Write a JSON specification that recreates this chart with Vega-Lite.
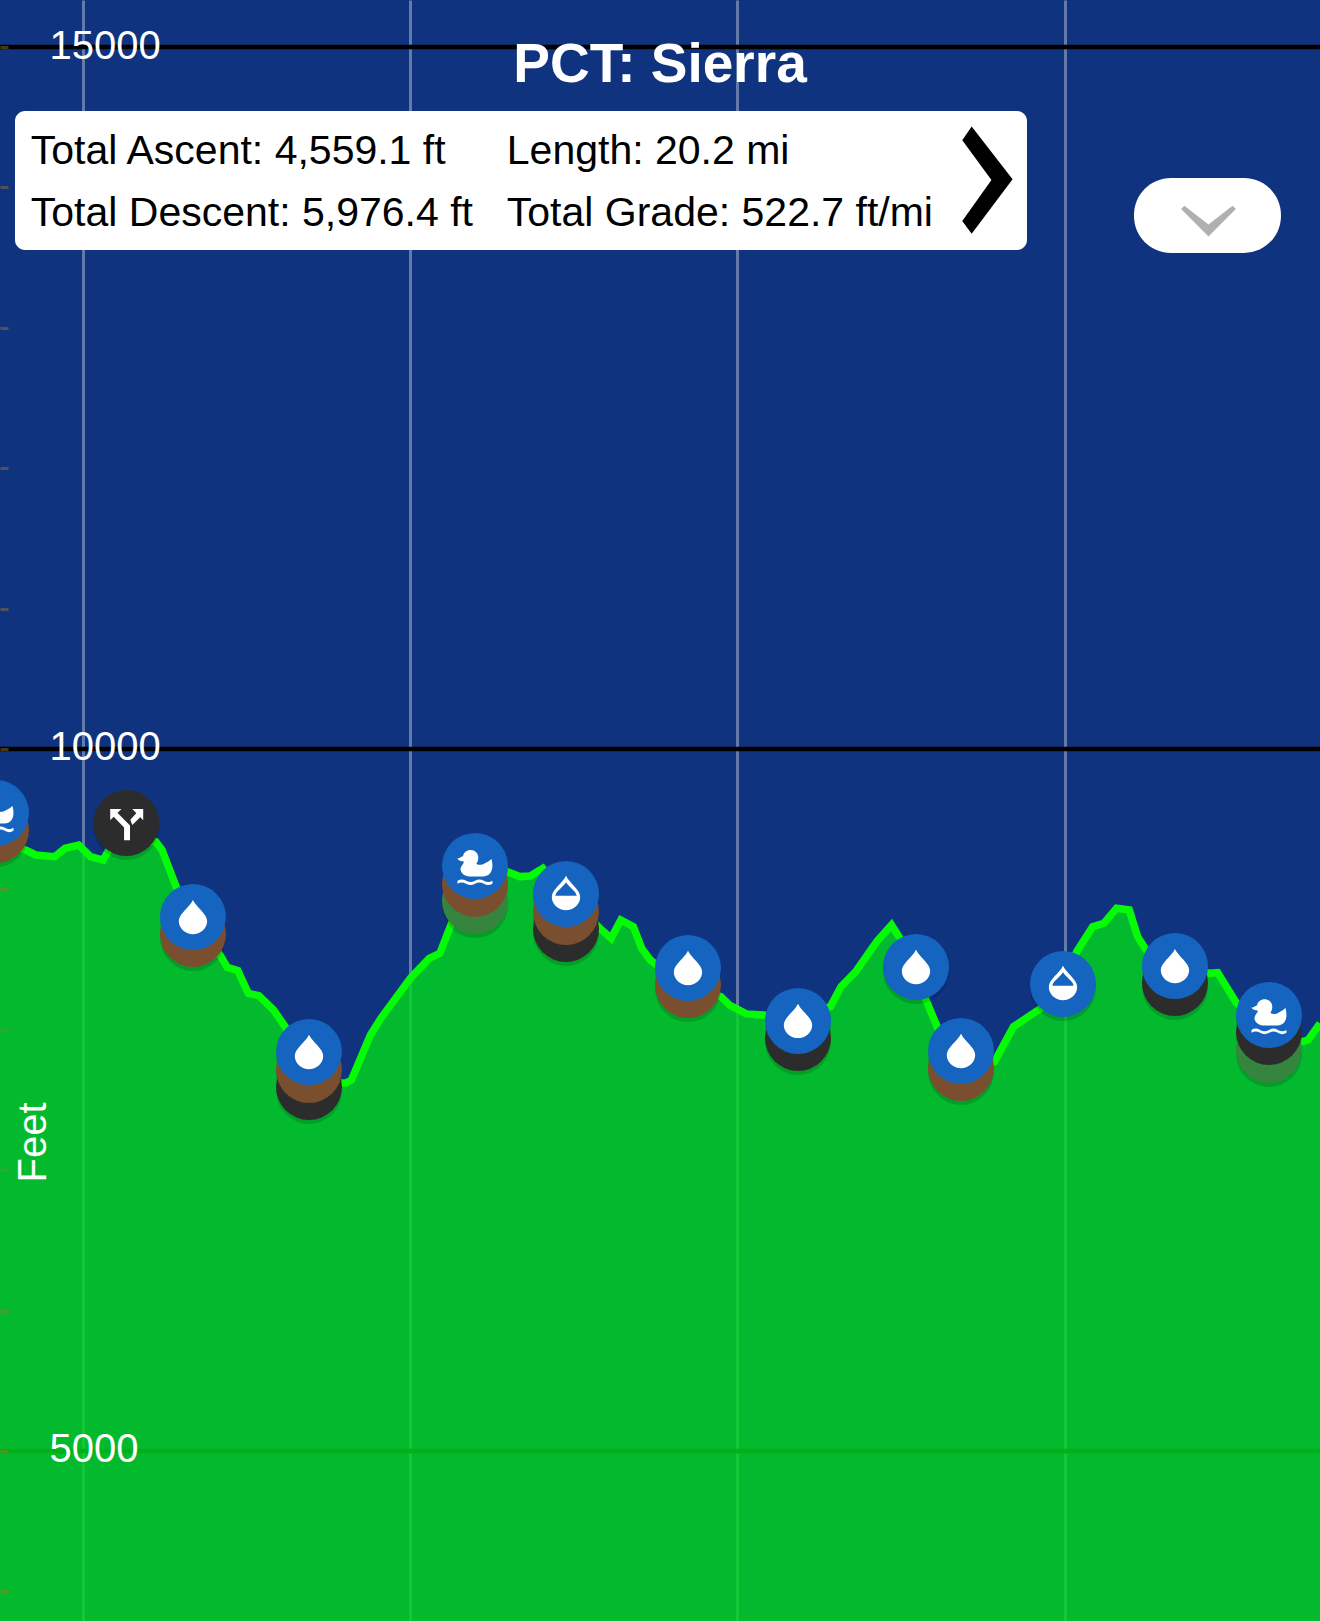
{
"$schema":"https://vega.github.io/schema/vega-lite/v6.json",
"width":1320,"height":1621,"padding":0,"autosize":{"type":"none"},
"background":"#10337f",
"view":{"stroke":null},
"title":{"text":"PCT: Sierra","font":"Liberation Sans","fontSize":55,"fontWeight":"bold","color":"#ffffff","anchor":"middle","frame":"group","baseline":"alphabetic","offset":-137},
"datasets":{
"profile":[
{"mile":3.74,"ft":9316},{"mile":4.126,"ft":9281},{"mile":4.287,"ft":9245},{"mile":4.575,"ft":9233},{"mile":4.736,"ft":9293},{"mile":4.942,"ft":9316},{"mile":5.122,"ft":9233},{"mile":5.315,"ft":9209},{"mile":5.424,"ft":9300},{"mile":5.664,"ft":9352},{"mile":6.118,"ft":9340},{"mile":6.214,"ft":9281},{"mile":6.44,"ft":9008},{"mile":7.115,"ft":8521},{"mile":7.211,"ft":8445},{"mile":7.372,"ft":8421},{"mile":7.532,"ft":8260},{"mile":7.692,"ft":8243},{"mile":7.918,"ft":8141},{"mile":8.111,"ft":8011},{"mile":8.497,"ft":7642},{"mile":9.01,"ft":7619},{"mile":9.107,"ft":7642},{"mile":9.397,"ft":7963},{"mile":9.557,"ft":8082},{"mile":10.008,"ft":8367},{"mile":10.296,"ft":8509},{"mile":10.457,"ft":8545},{"mile":10.617,"ft":8734},{"mile":10.811,"ft":8972},{"mile":11.13,"ft":9138},{"mile":11.486,"ft":9126},{"mile":11.678,"ft":9091},{"mile":11.839,"ft":9095},{"mile":12.031,"ft":9150},{"mile":12.353,"ft":8975},{"mile":12.9,"ft":8723},{"mile":13.073,"ft":8652},{"mile":13.221,"ft":8782},{"mile":13.413,"ft":8734},{"mile":13.541,"ft":8580},{"mile":13.671,"ft":8497},{"mile":13.767,"ft":8462},{"mile":14.247,"ft":8319},{"mile":14.751,"ft":8236},{"mile":14.879,"ft":8177},{"mile":15.137,"ft":8113},{"mile":15.394,"ft":8105},{"mile":15.912,"ft":8084},{"mile":16.423,"ft":8165},{"mile":16.584,"ft":8307},{"mile":16.808,"ft":8414},{"mile":17.13,"ft":8628},{"mile":17.355,"ft":8747},{"mile":17.483,"ft":8652},{"mile":17.882,"ft":8212},{"mile":18.062,"ft":8011},{"mile":18.447,"ft":7692},{"mile":18.929,"ft":7773},{"mile":19.218,"ft":8022},{"mile":19.636,"ft":8153},{"mile":19.989,"ft":8331},{"mile":20.183,"ft":8556},{"mile":20.427,"ft":8734},{"mile":20.6,"ft":8759},{"mile":20.792,"ft":8865},{"mile":20.986,"ft":8853},{"mile":21.114,"ft":8663},{"mile":21.243,"ft":8568},{"mile":21.726,"ft":8476},{"mile":22.207,"ft":8402},{"mile":22.336,"ft":8407},{"mile":22.625,"ft":8189},{"mile":23.14,"ft":7951},{"mile":23.621,"ft":7915},{"mile":23.718,"ft":7927},{"mile":23.899,"ft":8046}
],
"pins":[
{"mile":3.679,"ft":9423,"kind":"campsite"},{"mile":3.679,"ft":9544,"kind":"water","icon":"duck"},
{"mile":5.67,"ft":9473,"kind":"junction","icon":"fork"},
{"mile":6.687,"ft":8682,"kind":"campsite"},{"mile":6.687,"ft":8803,"kind":"water","icon":"drop"},
{"mile":8.459,"ft":7593,"kind":"junction"},{"mile":8.459,"ft":7714,"kind":"campsite"},{"mile":8.459,"ft":7842,"kind":"water","icon":"drop"},
{"mile":10.994,"ft":8917,"kind":"ground"},{"mile":10.994,"ft":9039,"kind":"campsite"},{"mile":10.994,"ft":9167,"kind":"water","icon":"duck"},
{"mile":12.384,"ft":8718,"kind":"junction"},{"mile":12.384,"ft":8839,"kind":"campsite"},{"mile":12.384,"ft":8967,"kind":"water","icon":"halfdrop"},
{"mile":14.247,"ft":8319,"kind":"campsite"},{"mile":14.247,"ft":8440,"kind":"water","icon":"drop"},
{"mile":15.927,"ft":7942,"kind":"junction"},{"mile":15.927,"ft":8063,"kind":"water","icon":"drop"},
{"mile":17.729,"ft":8447,"kind":"water","icon":"drop"},
{"mile":18.416,"ft":7728,"kind":"campsite"},{"mile":18.416,"ft":7849,"kind":"water","icon":"drop"},
{"mile":19.974,"ft":8326,"kind":"water","icon":"halfdrop"},
{"mile":21.684,"ft":8333,"kind":"junction"},{"mile":21.684,"ft":8454,"kind":"water","icon":"drop"},
{"mile":23.12,"ft":7856,"kind":"ground"},{"mile":23.12,"ft":7985,"kind":"junction"},{"mile":23.12,"ft":8105,"kind":"water","icon":"duck"}
]
},
"layer":[
{"data":{"values":[{"ft":5000},{"ft":10000},{"ft":15000}]},
 "mark":{"type":"rule","color":"#000000","strokeWidth":4.5},
 "encoding":{"y":{"field":"ft","type":"quantitative"}}},
{"data":{"name":"profile"},
 "mark":{"type":"area","color":"#01d81c","opacity":0.82,"clip":true},
 "encoding":{
  "x":{"field":"mile","type":"quantitative","scale":{"domain":[3.74,23.899],"nice":false,"zero":false},
    "axis":{"values":[5,10,15,20],"grid":true,"gridColor":"#ffffff","gridOpacity":0.35,"gridWidth":3,"labels":false,"ticks":false,"domain":false,"title":null,"zindex":0}},
  "y":{"field":"ft","type":"quantitative","scale":{"domain":[3789,15334.8],"nice":false,"zero":false},
    "axis":{"values":[4000,5000,6000,7000,8000,9000,10000,11000,12000,13000,14000,15000],"grid":false,"domain":false,"format":"d",
      "labelExpr":"datum.value % 5000 === 0 ? datum.label : ''","labelAlign":"left","labelPadding":-41,"labelOffset":-1,"labelFont":"Liberation Sans","labelFontSize":40,"labelColor":"#ffffff",
      "tickSize":-8,"tickColor":"#a8781c","tickOpacity":0.45,"tickWidth":3,
      "title":"Feet","titleFont":"Liberation Sans","titleFontWeight":"normal","titleFontSize":40,"titleColor":"#ffffff","titleAngle":-90,"titleX":45,"titleY":1142,"titleAlign":"center","titleBaseline":"alphabetic","zindex":1}}
 }},
{"data":{"name":"profile"},
 "mark":{"type":"line","color":"#06fc06","strokeWidth":7.5,"strokeJoin":"miter","clip":true},
 "encoding":{"x":{"field":"mile","type":"quantitative"},"y":{"field":"ft","type":"quantitative"}}},
{"data":{"name":"pins"},
 "mark":{"type":"point","filled":true,"shape":"circle","size":4356,"color":"#000000","opacity":0.14,"yOffset":4,"strokeWidth":0},
 "encoding":{"x":{"field":"mile","type":"quantitative"},"y":{"field":"ft","type":"quantitative"}}},
{"data":{"name":"pins"},
 "mark":{"type":"point","filled":true,"shape":"circle","size":4356,"opacity":1,"strokeWidth":0},
 "encoding":{"x":{"field":"mile","type":"quantitative"},"y":{"field":"ft","type":"quantitative"},
  "color":{"field":"kind","type":"nominal","legend":null,"scale":{"domain":["water","campsite","junction","ground"],"range":["#1565c0","#7a4f2f","#2c2c2c","#35853e"]}}}},
{"data":{"name":"pins"},
 "transform":[{"filter":"isValid(datum.icon)"}],
 "mark":{"type":"point","filled":true,"size":4356,"opacity":1,"color":"#ffffff","strokeWidth":0},
 "encoding":{"x":{"field":"mile","type":"quantitative"},"y":{"field":"ft","type":"quantitative"},
  "shape":{"field":"icon","type":"nominal","legend":null,"scale":{"domain":["drop","halfdrop","duck","fork"],"range":[
   "M0,-0.52 C0.1,-0.3 0.43,-0.1 0.43,0.12 C0.43,0.35 0.22,0.52 0,0.52 C-0.22,0.52 -0.43,0.35 -0.43,0.12 C-0.43,-0.1 -0.1,-0.3 0,-0.52 Z",
   "M0,-0.55 C0.1,-0.33 0.43,-0.13 0.43,0.09 C0.43,0.32 0.22,0.49 0,0.49 C-0.22,0.49 -0.43,0.32 -0.43,0.09 C-0.43,-0.13 -0.1,-0.33 0,-0.55 Z M0,-0.36 C-0.1,-0.2 -0.32,-0.08 -0.32,0.05 L0.32,0.05 C0.32,-0.08 0.1,-0.2 0,-0.36 Z",
   "M-0.13,-0.48 C0,-0.48 0.1,-0.38 0.1,-0.25 C0.1,-0.17 0.07,-0.1 0.04,-0.07 C0.1,-0.02 0.2,-0.02 0.3,-0.08 C0.38,-0.12 0.46,-0.17 0.5,-0.21 C0.56,0 0.55,0.3 0.25,0.32 L-0.18,0.32 C-0.38,0.3 -0.47,0.15 -0.43,0.05 C-0.41,-0.02 -0.33,-0.08 -0.34,-0.12 L-0.35,-0.14 C-0.42,-0.14 -0.5,-0.17 -0.54,-0.22 C-0.47,-0.23 -0.42,-0.27 -0.36,-0.3 C-0.34,-0.4 -0.25,-0.48 -0.13,-0.48 Z M-0.53,0.45 Q-0.4,0.37 -0.27,0.45 Q-0.13,0.53 0,0.45 Q0.13,0.37 0.27,0.45 Q0.4,0.53 0.53,0.45 L0.53,0.54 Q0.4,0.62 0.27,0.54 Q0.13,0.46 0,0.54 Q-0.13,0.62 -0.27,0.54 Q-0.4,0.46 -0.53,0.54 Z",
   "M-0.07,0.52 L0.11,0.52 L0.11,0.08 L-0.28,-0.32 L-0.39,-0.2 L-0.07,0.14 Z M-0.49,-0.42 L-0.49,-0.08 L-0.15,-0.42 Z M0.51,-0.42 L0.18,-0.42 L0.51,-0.08 Z M0.18,0.06 L0.44,-0.2 L0.32,-0.32 L0.12,-0.1 Z"
  ]}}}},
{"data":{"values":[{"mile":3.969,"mile2":19.424,"ft":14544,"ft2":13554}]},
 "mark":{"type":"rect","color":"#ffffff","cornerRadius":10},
 "encoding":{"x":{"field":"mile","type":"quantitative"},"x2":{"field":"mile2"},"y":{"field":"ft","type":"quantitative"},"y2":{"field":"ft2"}}},
{"data":{"values":[{"mile":21.058,"mile2":23.303,"ft":14067,"ft2":13533}]},
 "mark":{"type":"rect","color":"#000000","opacity":0.15,"cornerRadius":37,"yOffset":3},
 "encoding":{"x":{"field":"mile","type":"quantitative"},"x2":{"field":"mile2"},"y":{"field":"ft","type":"quantitative"},"y2":{"field":"ft2"}}},
{"data":{"values":[{"mile":21.058,"mile2":23.303,"ft":14067,"ft2":13533}]},
 "mark":{"type":"rect","color":"#ffffff","cornerRadius":37},
 "encoding":{"x":{"field":"mile","type":"quantitative"},"x2":{"field":"mile2"},"y":{"field":"ft","type":"quantitative"},"y2":{"field":"ft2"}}},
{"data":{"values":[
  {"label":"Total Ascent: 4,559.1 ft","mile":4.21,"ft":14167},
  {"label":"Total Descent: 5,976.4 ft","mile":4.21,"ft":13725},
  {"label":"Length: 20.2 mi","mile":11.48,"ft":14167},
  {"label":"Total Grade: 522.7 ft/mi","mile":11.48,"ft":13725}]},
 "mark":{"type":"text","font":"Liberation Sans","fontSize":41,"color":"#000000","align":"left","baseline":"alphabetic"},
 "encoding":{"x":{"field":"mile","type":"quantitative"},"y":{"field":"ft","type":"quantitative"},"text":{"field":"label"}}},
{"data":{"values":[{"mile":18.821,"ft":14053}]},
 "mark":{"type":"point","filled":true,"size":4356,"opacity":1,"color":"#000000","strokeWidth":0,"shape":"M-0.48,-1.62 L0.76,-0.02 L-0.48,1.63 L-0.765,1.24 L0.12,0 L-0.765,-1.2 Z"},
 "encoding":{"x":{"field":"mile","type":"quantitative"},"y":{"field":"ft","type":"quantitative"}}},
{"data":{"values":[{"mile":22.196,"ft":13768}]},
 "mark":{"type":"point","filled":true,"size":4356,"opacity":1,"color":"#b0b0b0","strokeWidth":0,"shape":"M-0.83,-0.33 L-0.73,-0.43 L0,0.14 L0.73,-0.43 L0.83,-0.33 L0,0.5 Z"},
 "encoding":{"x":{"field":"mile","type":"quantitative"},"y":{"field":"ft","type":"quantitative"}}}
]
}
